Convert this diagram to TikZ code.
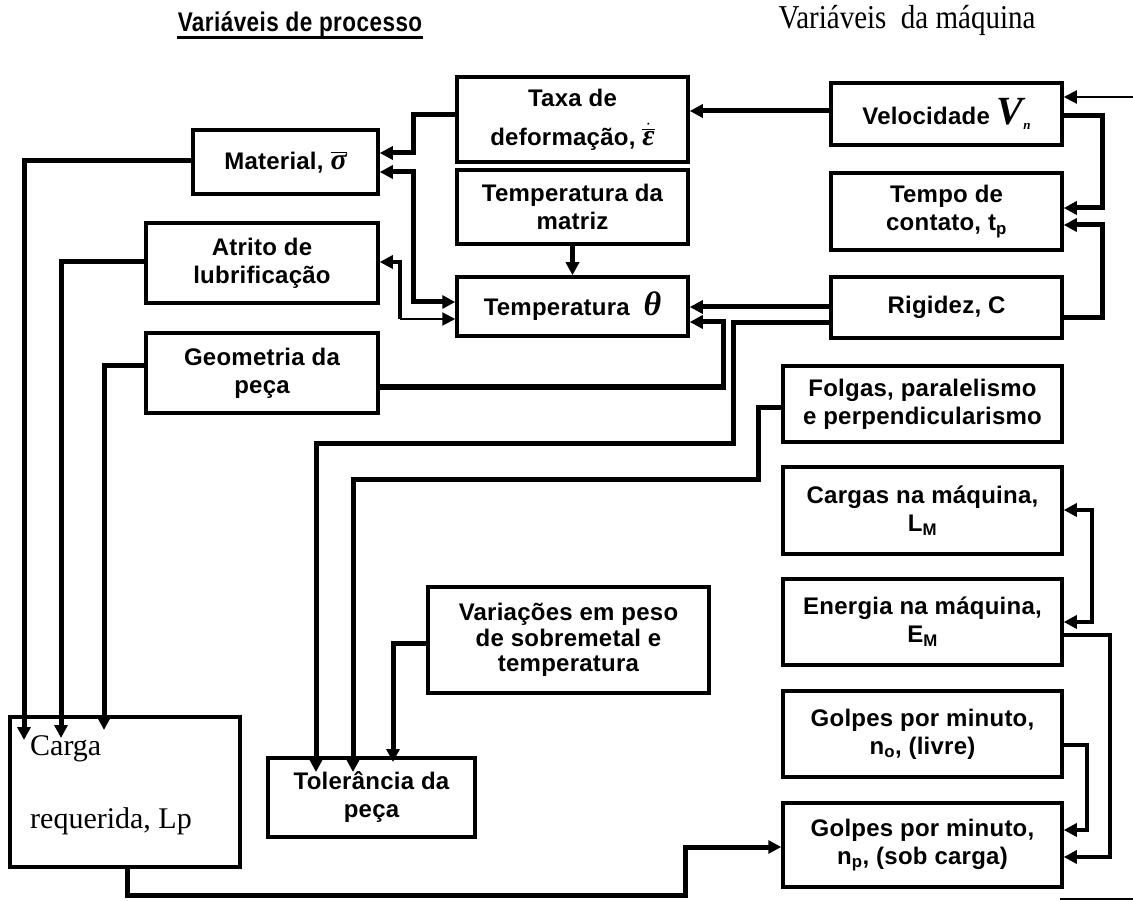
\documentclass[tikz,border=0pt]{standalone}
\usepackage{fontspec}
\setmainfont{Liberation Serif}
\newfontfamily\bxfont[LetterSpace=1]{Liberation Sans}
\newfontfamily\hdfont[LetterSpace=2]{Liberation Sans}
\usetikzlibrary{arrows.meta}
\tikzset{
  box/.style={draw, line width=3.5pt, rectangle, align=center, inner sep=2pt,
    font=\bxfont\bfseries\fontsize{24}{28}\selectfont},
  conn/.style={line width=5pt},
  connb/.style={line width=4pt},
  thinconn/.style={line width=2pt},
  hdrA/.style={inner sep=1pt, font=\hdfont\bfseries\fontsize{25}{25}\selectfont},
  hdrB/.style={inner sep=0pt, font=\rmfamily\fontsize{29}{29}\selectfont},
}
\newcommand{\grk}[1]{\hbox{\rmfamily\itshape\bfseries #1}}
\begin{document}
\begin{tikzpicture}[x=1pt,y=-1pt, >={Triangle[length=13pt,width=13pt]}, line join=miter]
\fill[white] (0,0) rectangle (1133,901);
\useasboundingbox (0,0) rectangle (1133,901);

% headers
\node[hdrA] (h1) at (300,24) {\scalebox{0.9}[1.08]{Variáveis de processo}};
\draw[line width=3pt] (h1.south west) -- (h1.south east);
\node[hdrB] (h2) at (907,20) {\scalebox{1}[1.15]{Variáveis\ \ da máquina}};

% process variables
\node[box, minimum width=185, minimum height=64] (mat) at (285.5,162)
  {Material, {\fontsize{30}{30}\selectfont$\overline{\grk{σ}}$}};
\node[box, minimum width=232, minimum height=80] (atr) at (262,263) {Atrito de\\lubrificação};
\node[box, minimum width=232, minimum height=80] (geo) at (262,373) {Geometria da\\peça};
\node[box, minimum width=231, minimum height=85] (taxa) at (572.5,119.5)
  {Taxa de\\[11pt]deformação, {\fontsize{30}{30}\selectfont$\dot{\overline{\grk{ε}}}$}};
\node[box, minimum width=231, minimum height=74] (tmat) at (572.5,207) {Temperatura da\\matriz};
\node[box, minimum width=231, minimum height=59] (temp) at (572.5,306.5)
  {Temperatura\ \ {\rmfamily\itshape\fontsize{34}{34}\selectfont θ}};
\node[box, minimum width=281, minimum height=106] (var) at (568.5,640)
  {Variações em peso\\[-2pt]de sobremetal e\\[-3pt]temperatura};
\node[box, minimum width=207, minimum height=79] (tol) at (371.5,797.5) {Tolerância da\\peça};
\node[box, minimum width=230, minimum height=150] (carga) at (125,792) {};
\node[anchor=base west, align=left, inner sep=0pt,
  font=\rmfamily\fontsize{30}{73}\selectfont] (cargat) at (30,828) {Carga\\requerida, Lp};

% machine variables
\node[box, minimum width=231, minimum height=62] (vel) at (946.5,114)
  {Velocidade\ {\rmfamily\itshape\fontsize{40}{40}\selectfont V}\raisebox{-5pt}{\rmfamily\itshape\bfseries\fontsize{13}{13}\selectfont n}};
\node[box, minimum width=231, minimum height=77] (tcon) at (946.5,211.5) {Tempo de\\contato, t\textsubscript{p}};
\node[box, minimum width=231, minimum height=61] (rig) at (946.5,307.5) {Rigidez, C};
\node[box, minimum width=279, minimum height=76] (folg) at (922.5,404) {Folgas, paralelismo\\e perpendicularismo};
\node[box, minimum width=279, minimum height=87] (carg) at (922.5,510.5) {Cargas na máquina,\\L\textsubscript{M}};
\node[box, minimum width=279, minimum height=86] (ener) at (922.5,622) {Energia na máquina,\\E\textsubscript{M}};
\node[box, minimum width=279, minimum height=86] (gno) at (922.5,734) {Golpes por minuto,\\n\textsubscript{o}, (livre)};
\node[box, minimum width=279, minimum height=84] (gnp) at (922.5,845) {Golpes por minuto,\\n\textsubscript{p}, (sob carga)};

% free ends
\coordinate (t1) at (316,772);
\coordinate (t2) at (353,772);
\coordinate (t3) at (393,762);
\coordinate (c1) at (24,740);
\coordinate (c2) at (61,738);
\coordinate (c3) at (104,730);
\coordinate (in) at (1133,97);
\coordinate (b1) at (1060,899);
\coordinate (b2) at (1133,899);

% connectors
\draw[conn,->] (taxa.west |- 0,115) -- (413,115) -- (413,153) -- (mat.east |- 0,153);
\draw[conn,<->] (mat.east |- 0,172) -- (413,172) -- (413,302) -- (temp.west |- 0,302);
\draw[connb,<-] (atr.east |- 0,262) -- (400,262) -- (400,319);
\draw[thinconn,->] (400,319) -- (temp.west |- 0,319);
\draw[conn,->] (geo.east |- 0,387) -- (723,387) -- (723,322) -- (temp.east |- 0,322);
\draw[conn,->] (vel.west |- 0,111) -- (taxa.east |- 0,111);
\draw[conn,->] (rig.west |- 0,307) -- (temp.east |- 0,307);
\draw[conn,->] (tmat.south) -- (temp.north);
\draw[conn,->] (rig.west |- 0,323) -- (733,323) -- (733,443) -- (316,443) -- (t1);
\draw[conn,->] (folg.west |- 0,407) -- (758,407) -- (758,479) -- (353,479) -- (t2);
\draw[conn,->] (var.west |- 0,643) -- (393,643) -- (t3);
\draw[conn,->] (mat.west |- 0,161) -- (24,161) -- (c1);
\draw[conn,->] (atr.west |- 0,262) -- (61,262) -- (c2);
\draw[conn,->] (geo.west |- 0,366) -- (104,366) -- (c3);
\draw[conn,->] (carga.south -| 127,0) -- (127,895) -- (685,895) -- (685,847) -- (gnp.west |- 0,847);
\draw[conn,->] (vel.east |- 0,116) -- (1102,116) -- (1102,208) -- (tcon.east |- 0,208);
\draw[conn,->] (rig.east |- 0,318) -- (1102,318) -- (1102,225) -- (tcon.east |- 0,225);
\draw[thinconn,->] (in) -- (vel.east |- 0,97);
\draw[connb,<->] (carg.east |- 0,510) -- (1092,510) -- (1092,622) -- (ener.east |- 0,622);
\draw[connb,->] (ener.east |- 0,635) -- (1110,635) -- (1110,857) -- (gnp.east |- 0,857);
\draw[connb,->] (gno.east |- 0,745) -- (1087,745) -- (1087,830) -- (gnp.east |- 0,830);
\draw[thinconn] (b1) -- (b2);
\end{tikzpicture}
\end{document}
